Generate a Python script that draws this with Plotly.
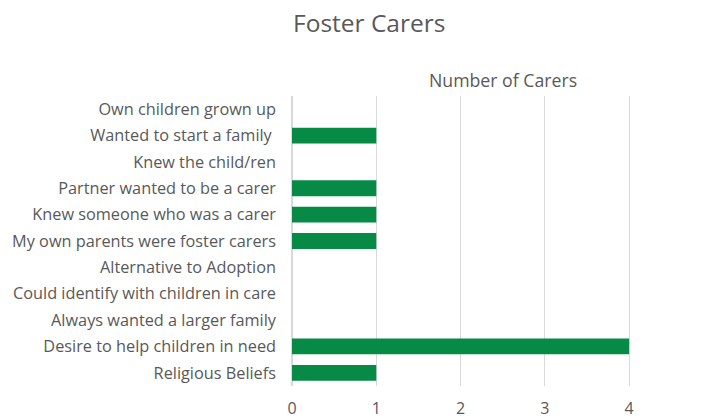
import plotly.graph_objects as go

categories = [
    "Own children grown up",
    "Wanted to start a family ",
    "Knew the child/ren",
    "Partner wanted to be a carer",
    "Knew someone who was a carer",
    "My own parents were foster carers",
    "Alternative to Adoption",
    "Could identify with children in care",
    "Always wanted a larger family",
    "Desire to help children in need",
    "Religious Beliefs",
]
carers = [0, 1, 0, 1, 1, 1, 0, 0, 0, 4, 1]
x_ticks = [0, 1, 2, 3, 4, 5]

font_family = "Open Sans, Lato, sans-serif"
grey = "#595959"

fig = go.Figure(go.Bar(
    x=carers,
    y=categories,
    orientation="h",
    width=0.6,
    marker=dict(color="#078a45", line=dict(width=0)),
))

# page body has an 8px margin, so the figure is placed 8px in from the top-left
fig.update_layout(
    width=710, height=417,
    margin=dict(l=284, r=8, t=88, b=39, autoexpand=False),
    paper_bgcolor="white",
    plot_bgcolor="white",
    showlegend=False,
    font=dict(family=font_family, color=grey, size=16),
    annotations=[
        dict(text="Foster Carers", xref="paper", yref="paper", x=0.185, y=1.255,
             xanchor="center", yanchor="middle", showarrow=False,
             font=dict(size=24.5, color=grey)),
        dict(text="Number of Carers", xref="paper", yref="paper", x=0.505, y=1.055,
             xanchor="center", yanchor="middle", showarrow=False,
             font=dict(size=17.7, color=grey)),
    ],
)
fig.update_xaxes(
    range=[0, 4.96], tickvals=x_ticks, showgrid=True, gridcolor="#d9d9d9", gridwidth=1,
    zeroline=True, zerolinecolor="#d9d9d9", zerolinewidth=1.5, automargin=False,
    tickfont=dict(size=16, color=grey), ticklabelstandoff=11, fixedrange=True,
)
fig.update_yaxes(
    autorange="reversed", showgrid=False, zeroline=False, automargin=False,
    tickfont=dict(size=16.3, color=grey), ticklabelstandoff=15,
)

fig.write_html("out.html")
